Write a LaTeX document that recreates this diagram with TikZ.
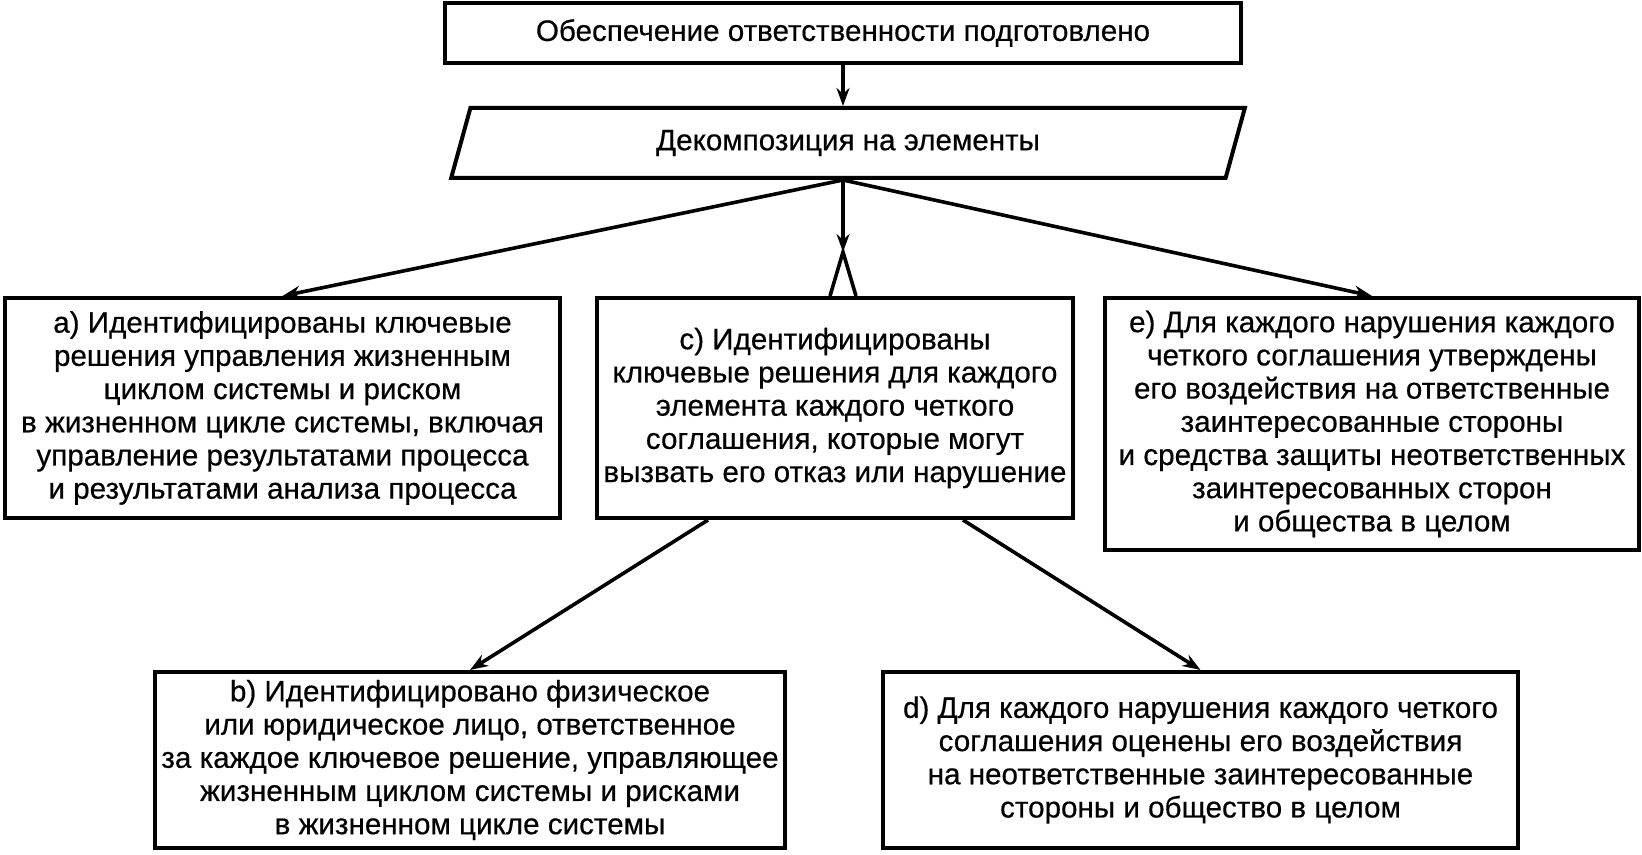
\documentclass[tikz,border=0pt]{standalone}
\usepackage{fontspec}
\setmainfont{Liberation Sans}
\newfontfamily\boxfont[FakeBold=0.5]{Liberation Sans}
\usepackage{tikz}
\usetikzlibrary{shapes.geometric,arrows.meta,calc}

\begin{document}
\begin{tikzpicture}[x=0.5pt,y=-0.5pt,
    box/.style={draw,line width=2pt,align=center,inner sep=0pt,
        font=\boxfont\fontsize{14.8}{16.6}\selectfont},
    slanted/.style={box,trapezium,trapezium left angle=69.6,
        trapezium right angle=110.4,trapezium stretches=true},
    link/.style={line width=1.8pt},
    arrow/.style={link,-{Stealth[length=9pt,width=6.5pt]}}]
   \useasboundingbox (0,0) rectangle (1642,855);

   % top of the scheme
   \node[box,minimum width=398pt,minimum height=30pt] (top) at (843,33)
      {Обеспечение ответственности подготовлено};
   \node[slanted,minimum width=398pt,minimum height=35pt] (split) at (848,143)
      {Декомпозиция на элементы};
   \coordinate (hub) at (top.south |- split.south);

   % first row
   \node[box,minimum width=277.5pt,minimum height=110pt] (a) at (282.5,408)
      {а) Идентифицированы ключевые\\
       решения управления жизненным\\
       циклом системы и риском\\
       в жизненном цикле системы, включая\\
       управление результатами процесса\\
       и результатами анализа процесса};
   \node[box,minimum width=238pt,minimum height=110pt] (c) at (835,408)
      {с) Идентифицированы\\
       ключевые решения для каждого\\
       элемента каждого четкого\\
       соглашения, которые могут\\
       вызвать его отказ или нарушение};
   \node[box,minimum width=267pt,minimum height=126pt] (e) at (1372,424)
      {е) Для каждого нарушения каждого\\
       четкого соглашения утверждены\\
       его воздействия на ответственные\\
       заинтересованные стороны\\
       и средства защиты неответственных\\
       заинтересованных сторон\\
       и общества в целом};

   % second row
   \node[box,minimum width=315pt,minimum height=88pt] (b) at (470,760)
      {b) Идентифицировано физическое\\
       или юридическое лицо, ответственное\\
       за каждое ключевое решение, управляющее\\
       жизненным циклом системы и рисками\\
       в жизненном цикле системы};
   \node[box,minimum width=317.5pt,minimum height=88pt] (d) at (1200.5,760)
      {d) Для каждого нарушения каждого четкого\\
       соглашения оценены его воздействия\\
       на неответственные заинтересованные\\
       стороны и общество в целом};

   \draw[arrow] (top.south) -- (top.south |- split.north);
   \draw[arrow] (hub) -- (a.north);
   \draw[arrow] (hub) -- (e.north);
   \coordinate (fork) at ($(hub)+(0,72)$);
   \draw[arrow] (hub) -- (fork);
   \draw[link] ($(hub |- c.north)+(-13,0)$) -- (fork) -- ($(hub |- c.north)+(13,0)$);
   \draw[arrow] ($(c.south)+(-127,0)$) -- (b.north);
   \draw[arrow] ($(c.south)+(128,0)$) -- (d.north);
\end{tikzpicture}
\end{document}
